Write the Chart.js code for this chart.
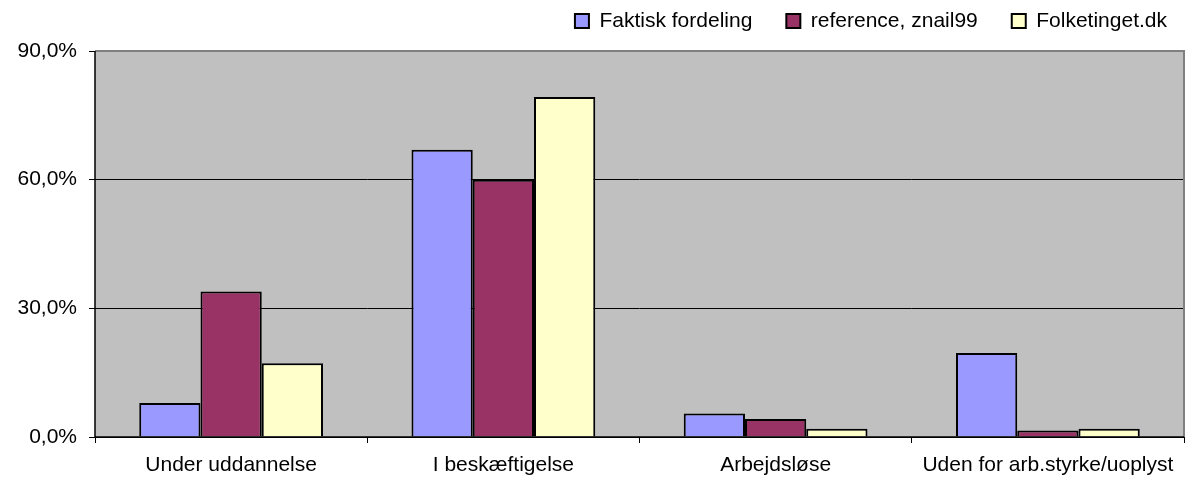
<!DOCTYPE html>
<html>
<head>
<meta charset="utf-8">
<script src="https://cdn.jsdelivr.net/npm/chart.js@4/dist/chart.umd.min.js"></script>
<style>
  html, body { margin: 0; padding: 0; background: #fff; }
  #wrap { width: 1190px; height: 482px; }
</style>
</head>
<body>
<div id="wrap"><canvas id="chart"></canvas></div>
<script>
  // Data (percent)
  const categories = ['Under uddannelse', 'I beskæftigelse', 'Arbejdsløse', 'Uden for arb.styrke/uoplyst'];
  const faktisk = [7.9, 67.0, 5.5, 19.6];
  const reference = [33.9, 60.0, 4.2, 1.5];
  const folketinget = [17.2, 79.3, 1.9, 1.9];
  const seriesNames = ['Faktisk fordeling', 'reference, znail99', 'Folketinget.dk'];
  const yTicks = [0, 30, 60, 90];

  const fontFamily = 'Arial, "Liberation Sans", sans-serif';

  // grey plot area + frame
  const plotBg = {
    id: 'plotBg',
    beforeDraw(chart) {
      const { ctx, chartArea: a } = chart;
      ctx.save();
      ctx.fillStyle = '#C0C0C0';
      ctx.fillRect(a.left, a.top, a.right - a.left, a.bottom - a.top);
      ctx.restore();
    },
    afterDatasetsDraw(chart) {
      const { ctx, chartArea: a } = chart;
      ctx.save();
      ctx.strokeStyle = '#808080';
      ctx.lineWidth = 2;
      ctx.beginPath();
      ctx.moveTo(a.left, a.top);
      ctx.lineTo(a.right, a.top);
      ctx.lineTo(a.right, a.bottom);
      ctx.stroke();
      ctx.strokeStyle = '#000';
      ctx.lineWidth = 1.5;
      ctx.beginPath();
      ctx.moveTo(a.left, a.top);
      ctx.lineTo(a.left, a.bottom);
      ctx.lineTo(a.right, a.bottom);
      ctx.stroke();
      ctx.restore();
    }
  };

  // keep the legend row high up on the right, like the original
  const legendPlace = {
    id: 'legendPlace',
    afterInit(chart) {
      const legend = chart.legend;
      const fit = legend.fit;
      legend.fit = function () {
        fit.call(this);
        this.height = 51;
      };
    },
    afterLayout(chart) {
      const legend = chart.legend;
      legend.top = -23.5;
      legend.left += 17;
      legend.right += 17;
    }
  };

  const ctx = document.getElementById('chart').getContext('2d');
  new Chart(ctx, {
    type: 'bar',
    data: {
      labels: categories,
      datasets: [
        { label: seriesNames[0], data: faktisk, backgroundColor: '#9999FF' },
        { label: seriesNames[1], data: reference, backgroundColor: '#993366' },
        { label: seriesNames[2], data: folketinget, backgroundColor: '#FFFFCC' },
      ].map((d) => Object.assign(d, {
        borderColor: '#000',
        borderWidth: 2,
        categoryPercentage: 0.675,
        barPercentage: 1.0,
      })),
    },
    options: {
      responsive: true,
      maintainAspectRatio: false,
      animation: false,
      layout: { padding: { left: 0, right: 6, top: 0, bottom: 0 } },
      plugins: {
        legend: {
          position: 'top',
          align: 'end',
          labels: {
            color: '#000',
            font: { family: fontFamily, size: 21 },
            boxWidth: 14,
            boxHeight: 14,
            padding: 34,
          },
        },
        tooltip: { enabled: false },
      },
      scales: {
        x: {
          afterFit: (scale) => {
            scale.height = 45;
          },
          grid: {
            offset: true,
            drawOnChartArea: false,
            drawTicks: true,
            tickLength: 6,
            color: '#000',
          },
          border: { display: false },
          ticks: {
            color: '#000',
            font: { family: fontFamily, size: 21 },
            padding: 10,
            maxRotation: 0,
            autoSkip: false,
          },
        },
        y: {
          min: 0,
          max: 90,
          afterBuildTicks: (scale) => {
            scale.ticks = yTicks.map((v) => ({ value: v }));
          },
          afterFit: (scale) => {
            scale.width = 95;
          },
          grid: {
            color: '#000',
            lineWidth: 1,
            tickLength: 6,
          },
          border: { display: false },
          ticks: {
            color: '#000',
            font: { family: fontFamily, size: 21 },
            padding: 12,
            callback: (v) => v.toFixed(1).replace('.', ',') + '%',
          },
        },
      },
    },
    plugins: [plotBg, legendPlace],
  });
</script>
</body>
</html>
